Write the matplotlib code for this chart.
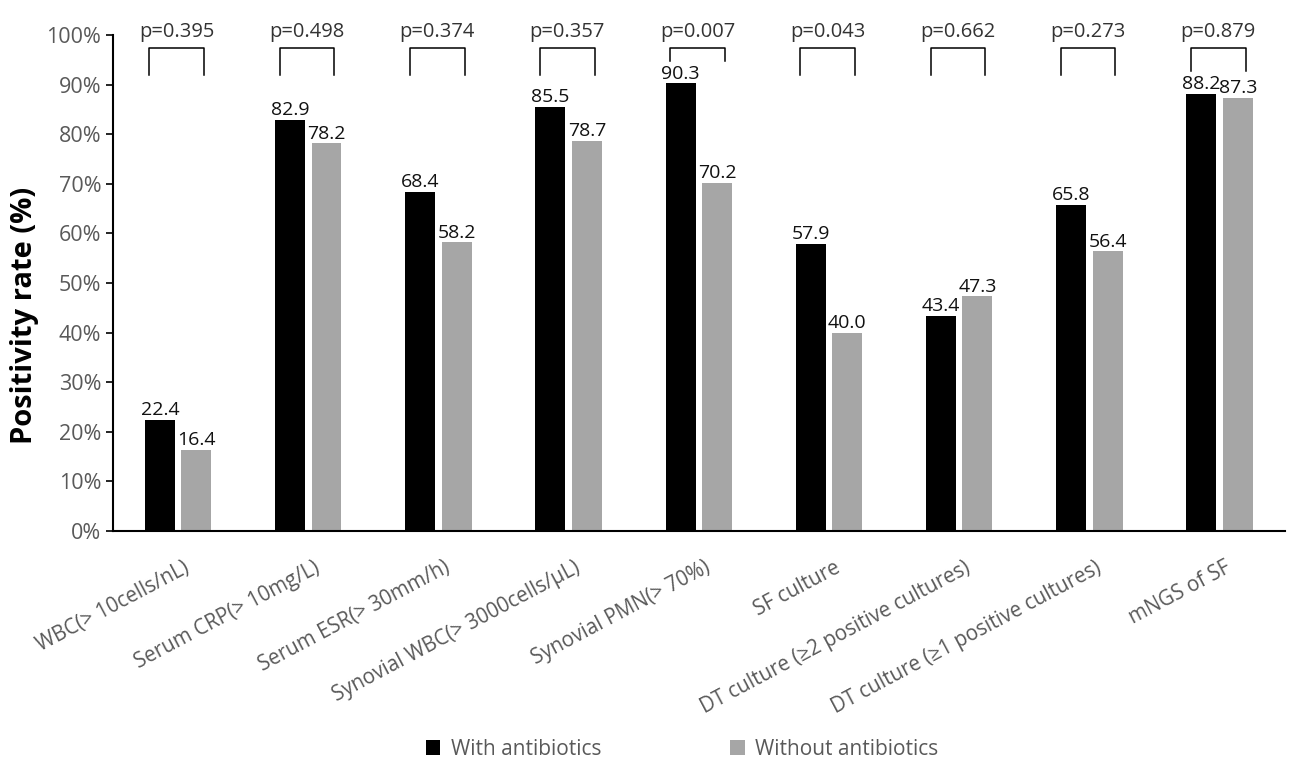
import numpy as np
import matplotlib
matplotlib.use('Agg')
import matplotlib.pyplot as plt

plt.rcParams['font.family'] = ['Open Sans', 'DejaVu Sans']

categories = ['WBC(> 10cells/nL)', 'Serum CRP(> 10mg/L)', 'Serum ESR(> 30mm/h)',
              'Synovial WBC(> 3000cells/μL)', 'Synovial PMN(> 70%)', 'SF culture',
              'DT culture (≥2 positive cultures)', 'DT culture (≥1 positive cultures)',
              'mNGS of SF']
with_abx = [22.4, 82.9, 68.4, 85.5, 90.3, 57.9, 43.4, 65.8, 88.2]
without_abx = [16.4, 78.2, 58.2, 78.7, 70.2, 40.0, 47.3, 56.4, 87.3]
p_values = ['0.395', '0.498', '0.374', '0.357', '0.007', '0.043', '0.662', '0.273', '0.879']

fig = plt.figure(figsize=(12.99, 7.71), dpi=100)
ax = fig.add_axes([0.087, 0.3113, 0.902, 0.6433])

x = np.arange(len(categories))
w = 0.23
off = 0.14
ax.bar(x - off, with_abx, w, color='black', label='With antibiotics')
ax.bar(x + off, without_abx, w, color='#a6a6a6', label='Without antibiotics')

for i in range(len(categories)):
    ax.text(x[i] - off, with_abx[i] + 0.1, f'{with_abx[i]:.1f}', ha='center', va='bottom',
            fontsize=14, color='#111111')
    ax.text(x[i] + off, without_abx[i] + 0.1, f'{without_abx[i]:.1f}', ha='center', va='bottom',
            fontsize=14, color='#111111')

    # bracket with p value
    top = 97.3
    bottom = max(92, max(with_abx[i], without_abx[i]) + 4.5)
    left, right = x[i] - 0.22, x[i] + 0.2
    ax.plot([left, left, right, right], [bottom, top, top, bottom], color='black',
            lw=1.1, clip_on=False)
    ax.text((left + right) / 2, 100.6, f'p={p_values[i]}', ha='center', va='center',
            fontsize=14.5, color='#333333')

ax.set_xlim(-0.5, len(categories) - 0.5)
ax.set_ylim(0, 100)
ax.set_yticks(np.arange(0, 101, 10))
ax.set_yticklabels([f'{v}%' for v in range(0, 101, 10)])
ax.tick_params(axis='y', labelsize=15.5, labelcolor='#595959', length=5, width=1.2)
ax.set_xticks(x + 0.04)
ax.set_xticklabels(categories, rotation=28, ha='right', rotation_mode='anchor')
ax.tick_params(axis='x', length=0, labelsize=14.8, labelcolor='#595959', pad=19)

ax.spines['top'].set_visible(False)
ax.spines['right'].set_visible(False)
ax.spines['left'].set_linewidth(1.5)
ax.spines['bottom'].set_linewidth(1.5)
ax.set_ylabel('Positivity rate (%)', fontsize=21, fontweight='bold')
ax.yaxis.set_label_coords(-0.063, 0.435)

fig.legend(loc='center', bbox_to_anchor=(0.525, 0.028), ncol=2, frameon=False,
           fontsize=15, labelcolor='#595959', handlelength=0.7, handleheight=0.7,
           columnspacing=6.2, handletextpad=0.5)

plt.savefig('out.png', dpi=100)
